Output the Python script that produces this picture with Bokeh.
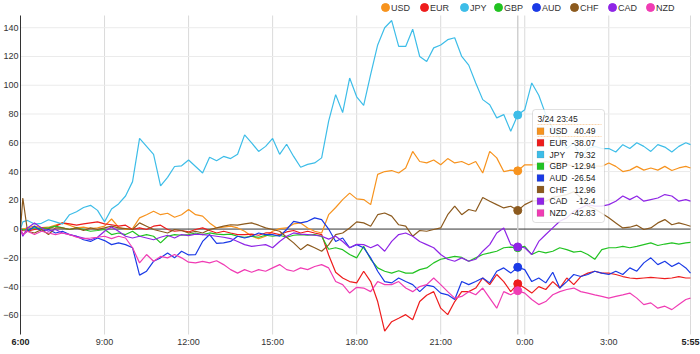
from bokeh.plotting import figure
from bokeh.models import (Range1d, FixedTicker, CustomJSTickFormatter, Label, BoxAnnotation,
                          LinearAxis)
from bokeh.core.properties import value
from bokeh.embed import file_html
from bokeh.resources import INLINE

FONT = "Liberation Sans"

currencies = ["USD", "EUR", "JPY", "GBP", "AUD", "CHF", "CAD", "NZD"]
colors = ["#f7931e", "#ee1c1c", "#3dbde8", "#22c322", "#1a3ae6", "#8c5a1e", "#8f25e6", "#f03cb4"]

# minutes after 6:00 (3/24 06:00 -> 3/25 05:55)
minutes = [0, 5] + [15 * k for k in range(1, 96)] + [1435]

usd = [0, 0, 0.8, 2, 1, 1.3, 2.7, 4.3, 2.7, 0.8, 1.3, 0.3, 0.8, 2, 7, 1.3, -0.3, 0.3, 7.8, 10, 12.4, 10, 11, 8.2, 10, 13.6,
       10, 9, 4.3, 0.8, 1.3, 2, 0.8, -1.5, -5, -6.6, -5, -1.5, 0.3, 0.8, 3.6, 4.3, 0.8, -1.5, -2.7, 10, 15, 20.5, 25, 21,
       20.5, 17, 38, 40, 40.7, 39, 42.5, 54, 47, 46, 48, 44.7, 49, 46, 47, 44.7, 47, 39, 54, 49.5, 40, 41, 40.49, 44.7,
       44.7, 45, 47, 46, 46, 45, 43.6, 44, 44.7, 44, 43.6, 46, 43.6, 40, 41, 43.6, 41, 42.5, 41, 43.6, 40.7, 42.5, 43.6, 42.5]
eur = [0, -1, -1.5, -0.3, 0.8, 0.3, 2, 4.3, 3.6, 2.7, 3.6, 4.3, 5, 3.6, 3, 2, 2.7, -0.3, 0.8, -0.3, 2, 2.7, -0.3, -1.5, -1, -2,
       -0.3, 0.8, -1, -2.7, -1.5, -2.7, -3.8, -3.8, -3.5, -4.3, -2.7, -2.7, -3.8, -2, -1, -2.7, -1.5, -2.7, -3.8, -18, -30, -34, -36.5, -37.4,
       -29.3, -36.5, -50.4, -71, -64.4, -62, -59.5, -63, -50.4, -46, -43.5, -55, -59.5, -50.4, -43.5, -43.5, -41, -34, -38.6, -31.6, -36.5, -43.5, -38.07, -41,
       -44.5, -40, -42, -36.5, -41, -34, -38.6, -33, -30.6, -29.3, -30.6, -30.6, -31.6, -33, -34, -34.5, -34, -33.6, -34, -34.5, -34, -33, -34, -34]
jpy = [0, 5, 6, 3.5, 4, 6.5, 5, 3.5, 10, 12, 15, 16.5, 13, 5, 14, 17.5, 23, 33, 63, 57.5, 52, 30, 36, 43.5, 44, 48,
       43.5, 39, 50, 47.5, 50.5, 49, 52, 65.5, 60, 54, 57.5, 63, 52, 59, 50.5, 43, 45, 46, 49.5, 75, 93.5, 81, 105, 92,
       86, 107.5, 128, 140, 145, 127, 127, 139, 120, 116.5, 126, 128, 131.7, 133, 120, 114, 101.6, 90, 86.5, 77.3, 79.6, 68, 79.32, 83,
       101.6, 93, 79.6, 70, 63, 56, 60, 49.5, 56, 57.5, 56, 56, 53.6, 58.7, 56, 60, 57.5, 54, 58.7, 57, 53.6, 57.5, 60, 58.7]
gbp = [0, -0.5, -0.3, 0.8, 0.3, 0.8, 2, 0.8, -0.3, 0.8, -0.3, -1.5, -1, -0.3, -3.8, -2.7, -3.8, -1.5, -5, -3.8, -5, -9.6, -5, -3.8, -4.3, -3.8,
       -2.7, -3.8, -2.7, -3.5, -3.8, -3.5, -5, -5.7, -5, -5.7, -4.3, -5, -4.3, -5.7, -4.3, -3.8, -4.3, -3.8, -5, -14, -13, -14.3, -17.7, -20,
       -12, -21, -27, -29.3, -30.6, -29, -30.6, -30.6, -28.2, -27, -23.5, -21, -20, -19, -19.7, -22.4, -20, -17.7, -16.6, -15.4, -13, -12.5, -12.94, -12,
       -17.7, -15.4, -16.6, -15.4, -13, -14.3, -16, -15.4, -17.7, -21, -14.3, -13, -13, -12, -13, -12, -10.8, -9.6, -11.4, -10.4, -9.6, -10.4, -9.6, -9.2]
aud = [0, -3.8, -1.5, 2, -1.5, -0.3, -2.7, -1.5, -3.8, -5, -7.4, -8.6, -6.2, -8, -10.8, -9.6, -10.8, -13, -32, -29.3, -22.4, -20, -16.6, -20, -15.4, -18,
       -17.7, -8.6, -3.8, -10, -9.6, -8.6, -5, -6.2, -5, -2.7, -3.8, -3.8, -5, -0.3, 5.4, 4.3, 5.4, 7.8, 6.6, 0, -8.6, -6.2, -13, -10.8,
       -13, -20, -29.3, -36.5, -37.4, -34, -36.5, -38.6, -43.5, -39, -40, -44.5, -45.7, -49, -36.5, -38.6, -36.5, -34, -37.4, -29.3, -27, -30.6, -26.54, -28.2,
       -36.5, -34, -37.4, -30, -41, -36.5, -31.6, -33, -31.6, -29.3, -30.6, -31.6, -29.3, -31.6, -27, -29.3, -23.5, -20, -24.7, -22.4, -26, -23.5, -27, -30.6]
chf = [0, 21.6, -1.5, -2.7, -0.3, -3.8, 0.8, 0.8, -0.3, 0.8, -1, 0.8, -0.3, 0.8, 2, 0.8, 0.3, -0.3, 4.3, 2, -0.3, -1.5, -2.7, -0.3, -1, -2.7,
       -1.5, -2.7, -0.3, 0.8, 2, 3, 2.7, 3.6, 4.3, 2.7, 0.8, -0.3, -1.5, -5.7, -9.6, -14.3, -10.8, -13, -15.4, -11, -3.8, -2.7, 0.8, 5,
       4.3, 2, 10, 11.2, 9, 3, 2, -5, -1, -1.5, -0.3, 0.8, 10, 15.9, 10, 13.6, 12.4, 22, 19.4, 17, 14.7, 15.9, 12.96, 17,
       19.4, 20, 19.4, 22, 23, 24, 26, 22, 16, 14, 11, 7.8, 4.3, 0.8, 1.3, 2.7, -0.3, 0.8, 4.3, 6.6, 3, 4.3, 3, 2]
cad = [0, -5, 0.8, 4.3, 0.8, -1.5, -0.3, -2.7, -3.8, -5, -6.2, -7.4, -5.7, -1.5, 1.5, -1.5, -5, -6.2, -5, -6.2, -7.4, -5.7, -4.3, -6.2, -3.8, -4.5,
       -3.5, -3.8, -4.3, -5, -5.7, -6.6, -8.6, -10.8, -12, -11.4, -10.8, -13, -8.6, -5, -2.7, -3.5, -3.8, -4.3, -5, -7, -5, -8.6, -13, -10.6,
       -10.8, -13, -10.8, -15.4, -8.6, -3.8, -2.7, -5, -8.6, -10.8, -13, -17.7, -21, -22.4, -20, -22.4, -21, -15.4, -10.8, -2.7, 0.8, -10.8, -12.4, -13,
       -17.7, -8.6, -3.8, 0.8, 5.4, 7.8, 12.4, 14.7, 17, 16, 16, 17, 19.4, 23, 20.5, 23, 19.4, 20.5, 21.6, 24, 23, 19.4, 20.5, 19.4]
nzd = [0, -3.8, -1.5, -3.8, -1.5, -2.7, -3.8, -2.7, -3.8, -5.7, -6.6, -6.2, -5.7, -5, -6.6, -5, -6.2, -13, -23.5, -17.7, -22.4, -19, -20, -17.7, -20, -23,
       -23.5, -22.4, -23.5, -22, -24.7, -28.2, -30.6, -28.2, -30, -28.2, -29.3, -27, -24.7, -28.2, -29.3, -27, -28.2, -26, -24.7, -27, -36.5, -38.6, -44.5, -40.5,
       -41, -43.5, -36.5, -38.6, -38.6, -36.5, -41, -43.5, -40, -38.6, -34, -38.6, -43.5, -48, -46.8, -43.5, -45.7, -41, -48, -55, -43.5, -45.7, -42.83, -44.5,
       -49, -52.5, -50.4, -45.7, -43.5, -42, -41, -43.5, -44.5, -45.7, -46.8, -48, -46.8, -45.7, -44.5, -48, -52.5, -51.3, -55, -53.6, -56, -52.5, -49, -48]

series = [usd, eur, jpy, gbp, aud, chf, cad, nzd]
for s in series:
    assert len(s) == len(minutes), len(s)

hover_minute = 1065          # 3/24 23:45
hover_date = "3/24"
x_ticks = [0, 180, 360, 540, 720, 900, 1080, 1260, 1435]
y_ticks = list(range(-60, 141, 20))

# ---- geometry (page pixels) ----
W, H = 700, 354
CL, CR, CT, CB = 20, 690, 15, 334          # chart area
X0, X1 = 0, 1435                           # time domain (minutes)
Y0, Y1 = -73.3, 148.5                      # value domain
ux = (X1 - X0) / (CR - CL)
uy = (Y1 - Y0) / (CB - CT)


def dx(sx):
    return X0 + (sx - CL) * ux


def dy(sy):
    return Y1 - (sy - CT) * uy


p = figure(width=W, height=H, output_backend="svg", toolbar_location=None,
           x_range=Range1d(dx(0), dx(W)), y_range=Range1d(dy(H), dy(0)),
           min_border_left=0, min_border_right=0, min_border_top=0, min_border_bottom=0)
p.outline_line_color = None
p.background_fill_color = "white"
p.xgrid.visible = False
p.ygrid.visible = False

fmt = CustomJSTickFormatter(code="""
  const h = (6 + Math.floor(tick / 60)) % 24;
  const m = Math.round(tick % 60);
  return h + ":" + (m < 10 ? "0" : "") + m;
""")

# y axis drawn at the left edge of the chart area
ya = p.yaxis[0]
ya.fixed_location = X0
ya.bounds = (Y0, Y1)
ya.ticker = FixedTicker(ticks=y_ticks)
ya.axis_line_color = "#333333"
ya.major_tick_line_color = None
ya.minor_tick_line_color = None
ya.major_tick_out = 0
ya.major_tick_in = 0
ya.minor_tick_out = 0
ya.major_label_standoff = 2
ya.major_label_text_font = FONT
ya.major_label_text_font_size = "9px"
ya.major_label_text_color = "#333333"

# x axes at the bottom of the chart area (regular labels + bold end labels)
xa = p.xaxis[0]
xb = LinearAxis()
p.add_layout(xb, "below")
for ax, ticks, style, colr in ((xa, x_ticks[1:-1], "normal", "#333333"),
                               (xb, [x_ticks[0], x_ticks[-1]], "bold", "#222222")):
    ax.fixed_location = Y0
    ax.bounds = (X0, X1)
    ax.ticker = FixedTicker(ticks=ticks)
    ax.formatter = fmt
    ax.axis_line_color = None
    ax.major_tick_line_color = None
    ax.minor_tick_line_color = None
    ax.major_tick_out = 0
    ax.major_tick_in = 0
    ax.minor_tick_out = 0
    ax.major_label_standoff = 2
    ax.major_label_text_font = FONT
    ax.major_label_text_font_size = "9px"
    ax.major_label_text_font_style = style
    ax.major_label_text_color = colr

# grid lines within the chart area
gx = x_ticks[1:]
gy = [t for t in y_ticks if t != 0]
p.segment(x0=gx, y0=[Y0] * len(gx), x1=gx, y1=[Y1] * len(gx), line_color="#dadada", line_width=1)
p.segment(x0=[X0] * len(gy), y0=gy, x1=[X1] * len(gy), y1=gy, line_color="#ebebeb", line_width=1)
p.segment(x0=[X0], y0=[0], x1=[X1], y1=[0], line_color="#333333", line_width=1)
# hover crosshair
p.segment(x0=[hover_minute], y0=[Y0], x1=[hover_minute], y1=[Y1], line_color="#d0d0d0", line_width=1.5)

for name, col, vals in zip(currencies, colors, series):
    p.line(minutes, vals, line_color=col, line_width=1.2)

hidx = minutes.index(hover_minute)
for col, vals in zip(colors, series):
    p.scatter([hover_minute], [vals[hidx]], size=8, fill_color=col, line_color=col)

# legend above the chart area
leg_x = [385, 424, 464, 498, 536, 574, 612, 650]
leg_y = 7
p.scatter([dx(x) for x in leg_x], [dy(leg_y)] * 8, size=8, fill_color=colors, line_color=colors)
p.text([dx(x + 5.5) for x in leg_x], [dy(leg_y + 0.5)] * 8, text=currencies, text_font=value(FONT),
       text_font_size="9px", text_baseline="middle", text_align="left", text_color="#333333")


# ---- tooltip (screen units, frame == whole canvas) ----
def fy(sy):
    return H - sy


def sbox(**kw):
    return BoxAnnotation(left_units="screen", right_units="screen", top_units="screen",
                         bottom_units="screen", **kw)


TT_FS = "8.5px"
p.add_layout(sbox(left=532, right=604, top=fy(109), bottom=fy(222),
                  fill_color="white", fill_alpha=0.85, line_color="#999999", line_width=1,
                  border_radius=3))
hh = (6 + hover_minute // 60) % 24
mm = hover_minute % 60
p.add_layout(Label(x=537, y=fy(118), x_units="screen", y_units="screen", text=f"{hover_date} {hh}:{mm:02d}",
                   text_align="left", text_baseline="middle", text_font=FONT, text_font_size=TT_FS,
                   text_color="#222222"))
for sy in (124, 136):
    p.add_layout(sbox(left=537, right=601, top=fy(sy), bottom=fy(sy),
                      fill_alpha=0, line_color="#f5b060", line_width=1, line_dash="2 1"))
for i, (name, col, vals) in enumerate(zip(currencies, colors, series)):
    cy = 130.7 + 11.67 * i
    p.add_layout(sbox(left=536.5, right=543.5, top=fy(cy - 3.5), bottom=fy(cy + 3.5),
                      fill_color=col, fill_alpha=1, line_color="#777777", line_width=0.6))
    p.add_layout(Label(x=549, y=fy(cy), x_units="screen", y_units="screen", text=name,
                       text_align="left", text_baseline="middle", text_font=FONT, text_font_size=TT_FS,
                       text_color="#222222"))
    p.add_layout(Label(x=595, y=fy(cy), x_units="screen", y_units="screen", text=f"{vals[hidx]:g}",
                       text_align="right", text_baseline="middle", text_font=FONT, text_font_size=TT_FS,
                       text_color="#222222"))

open("out.html", "w").write(file_html(p, INLINE))
